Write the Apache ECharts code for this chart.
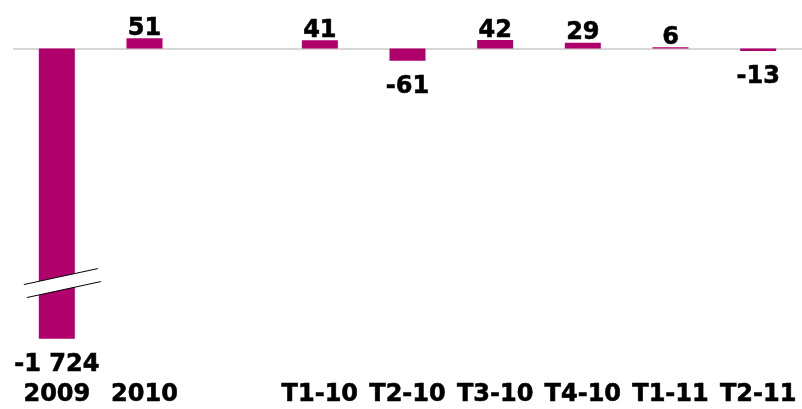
<!DOCTYPE html>
<html>
<head>
    <meta charset="UTF-8">
    <title>Variation</title>
    <script src="https://cdn.jsdelivr.net/npm/echarts@6/dist/echarts.min.js"></script>
    <style>
        body { margin: 0; background: #fff; }
    </style>
</head>
<body>
    <div id="bar" style="width:802px; height:409px;"></div>
    <script>
        // categories and values (empty slot between 2010 and T1-10)
        var categories = ['2009', '2010', '', 'T1-10', 'T2-10', 'T3-10', 'T4-10', 'T1-11', 'T2-11'];
        var values = [-1724, 51, '-', 41, -61, 42, 29, 6, -13];

        // axis break so the 2009 bar fits
        var breakStart = -1446;
        var breakEnd = -1172;

        function fmt(v) {
            var s = String(Math.abs(v)).replace(/\B(?=(\d{3})+(?!\d))/g, ' ');
            return (v < 0 ? '-' : '') + s;
        }

        var barData = values.map(function (v) {
            if (v === '-') return '-';
            return {
                value: v,
                label: v < 0 ? { position: 'bottom', distance: 14 } : { position: 'top', distance: -2.5 }
            };
        });

        var chart = echarts.init(document.getElementById('bar'), null, {renderer: 'canvas'});
        chart.setOption({
            animation: false,
            grid: { left: 13, width: 792, top: 28.5, bottom: 70.3, containLabel: false },
            xAxis: {
                type: 'category',
                data: categories,
                axisLine: { show: false, onZero: false },
                axisTick: { show: false },
                axisLabel: {
                    margin: 44,
                    color: '#000',
                    fontFamily: 'DejaVu Sans',
                    fontWeight: 'bold',
                    fontSize: 24,
                    textBorderColor: '#000',
                    textBorderWidth: 0.6,
                    interval: 0
                }
            },
            yAxis: {
                type: 'value',
                min: -1724,
                max: 100,
                axisLine: { show: false },
                axisTick: { show: false },
                axisLabel: { show: false },
                splitLine: { show: false },
                breaks: [{ start: breakStart, end: breakEnd, gap: 0 }],
                breakArea: { show: false }
            },
            series: [{
                type: 'bar',
                data: barData,
                barWidth: 36,
                itemStyle: { color: '#b0006b' },
                label: {
                    show: true,
                    color: '#000',
                    fontFamily: 'DejaVu Sans',
                    fontWeight: 'bold',
                    fontSize: 24,
                    textBorderColor: '#000',
                    textBorderWidth: 0.6,
                    formatter: function (p) { return fmt(p.value); }
                },
                markLine: {
                    silent: true,
                    symbol: 'none',
                    label: { show: false },
                    lineStyle: { color: '#c8c8c8', width: 1.5, type: 'solid' },
                    data: [{ yAxis: 0 }],
                    z: 1
                },
                z: 3
            }]
        });

        // break marker across the 2009 bar
        var c = chart.convertToPixel({ seriesIndex: 0 }, ['2009', breakEnd]);
        var cx = c[0], cy = c[1];
        var p1 = [cx - 33, cy + 1.5], p2 = [cx + 41, cy - 14.5];
        var p3 = [cx + 44, cy - 1.5], p4 = [cx - 30, cy + 14.5];
        chart.setOption({
            graphic: [
                { type: 'polygon', shape: { points: [p1, p2, p3, p4] }, style: { fill: '#fff' }, z: 10 },
                { type: 'line', shape: { x1: p1[0], y1: p1[1], x2: p2[0], y2: p2[1] }, style: { stroke: '#000', lineWidth: 1 }, z: 11 },
                { type: 'line', shape: { x1: p4[0], y1: p4[1], x2: p3[0], y2: p3[1] }, style: { stroke: '#000', lineWidth: 1 }, z: 11 }
            ]
        });
    </script>
</body>
</html>
